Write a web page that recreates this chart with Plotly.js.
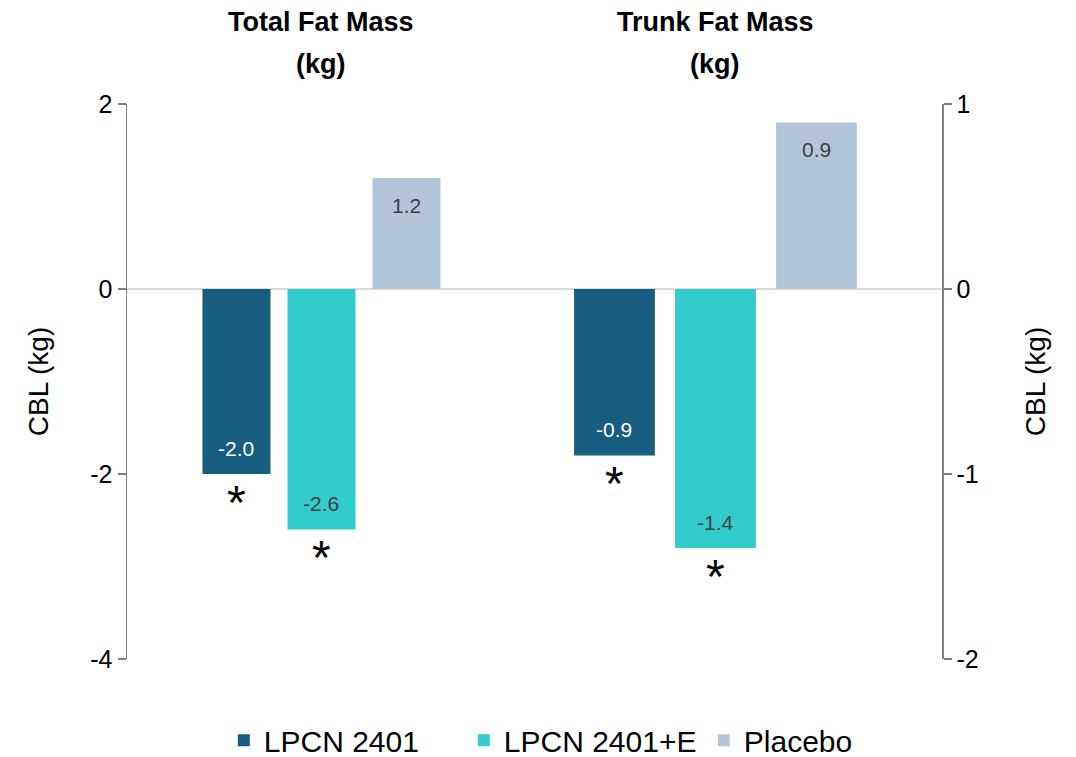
<!DOCTYPE html>
<html><head><meta charset="utf-8">
<script src="https://cdn.plot.ly/plotly-3.0.1.min.js"></script>
<style>html,body{margin:0;padding:0;background:#fff}#chart{width:1076px;height:757px}</style>
</head><body><div id="chart"></div>
<script>
// ---- data ----
const groupTitles = ["Total Fat Mass", "Trunk Fat Mass"];
const groupUnit = "(kg)";
const seriesNames = ["LPCN 2401", "LPCN 2401+E", "Placebo"];
const totalFatMass = [-2.0, -2.6, 1.2];
const trunkFatMass = [-0.9, -1.4, 0.9];
const totalFatSignificant = [true, true, false];
const trunkFatSignificant = [true, true, false];
const leftTicks = [-4, -2, 0, 2];
const rightTicks = [-2, -1, 0, 1];
const yTitle = "CBL (kg)";

// ---- style ----
const barColors = ["#175d7f", "#33cccc", "#b3c6d8"];
const labelColors = ["#ffffff", "#404040", "#404040"];
const FONT = "Liberation Sans, Arial, sans-serif";
const BARGAP = 0.3153, BARGROUPGAP = 0.2;
const AXIS_COLOR = "#7f7f7f";

const groupWidth = 1 - BARGAP;
const slot = groupWidth / seriesNames.length;
function barCenter(i) { return -groupWidth / 2 + slot * (i + 0.5); }

const panels = [
  {vals: totalFatMass, sig: totalFatSignificant, xa: "x", ya: "y", title: groupTitles[0]},
  {vals: trunkFatMass, sig: trunkFatSignificant, xa: "x2", ya: "y2", title: groupTitles[1]}
];

const traces = [];
const annotations = [];
panels.forEach((p, pi) => {
  seriesNames.forEach((name, i) => {
    traces.push({
      type: "bar",
      name: name,
      legendgroup: name,
      showlegend: pi === 0,
      x: [p.title],
      y: [p.vals[i]],
      xaxis: p.xa,
      yaxis: p.ya,
      marker: {color: barColors[i], line: {width: 0}},
      hoverinfo: "skip"
    });
    const v = p.vals[i];
    annotations.push({
      xref: p.xa, yref: p.ya, x: barCenter(i), y: v,
      text: v.toFixed(1), showarrow: false,
      font: {family: FONT, size: 21, color: labelColors[i]},
      xanchor: "center", yanchor: "middle",
      yshift: v < 0 ? 26 : -27
    });
    if (p.sig[i]) {
      annotations.push({
        xref: p.xa, yref: p.ya, x: barCenter(i), y: v,
        text: "*", showarrow: false,
        font: {family: FONT, size: 48, color: "#000000"},
        xanchor: "center", yanchor: "middle",
        yshift: -28
      });
    }
  });
  annotations.push({
    xref: p.xa, yref: "paper", x: 0, y: 1, yshift: 82,
    text: p.title, showarrow: false,
    font: {family: FONT, size: 27, color: "#000000", weight: "bold"},
    xanchor: "center", yanchor: "middle"
  });
  annotations.push({
    xref: p.xa, yref: "paper", x: 0, y: 1, yshift: 40,
    text: groupUnit, showarrow: false,
    font: {family: FONT, size: 27, color: "#000000", weight: "bold"},
    xanchor: "center", yanchor: "middle"
  });
});

const yCommon = {
  showgrid: false, zeroline: true, zerolinecolor: "#d9d9d9", zerolinewidth: 2,
  showline: true, linecolor: AXIS_COLOR, linewidth: 1.5,
  ticks: "outside", ticklen: 8, tickcolor: AXIS_COLOR, tickwidth: 1.5,
  tickfont: {family: FONT, size: 25, color: "#000000"},
  automargin: false,
  fixedrange: true
};

const layout = {
  width: 1076, height: 757,
  margin: {l: 127, r: 134, t: 104, b: 98, autoexpand: false},
  paper_bgcolor: "#ffffff", plot_bgcolor: "#ffffff",
  barmode: "group", bargap: BARGAP, bargroupgap: BARGROUPGAP,
  showlegend: true,
  legend: {
    orientation: "h", xref: "container", yref: "container",
    x: 0.208, xanchor: "left", y: 0.022, yanchor: "middle",
    font: {family: FONT, size: 30, color: "#000000"}, itemwidth: 30,
    entrywidth: 195, entrywidthmode: "pixels", traceorder: "normal"
  },
  xaxis: {domain: [0, 0.45706], range: [-0.5221, 0.4779], type: "category",
          showticklabels: false, showgrid: false, zeroline: false, showline: false, ticks: ""},
  xaxis2: {domain: [0.45706, 1], range: [-0.4881, 0.5119], type: "category",
           showticklabels: false, showgrid: false, zeroline: false, showline: false, ticks: "", anchor: "y2"},
  yaxis: Object.assign({}, yCommon, {range: [-4, 2], tickvals: leftTicks, ticktext: leftTicks.map(String), side: "left", anchor: "x",
    title: {text: yTitle, font: {family: FONT, size: 28, color: "#000000"}, standoff: 33}}),
  yaxis2: Object.assign({}, yCommon, {range: [-2, 1], tickvals: rightTicks, ticktext: rightTicks.map(String), side: "right", anchor: "x2",
    title: {text: yTitle, font: {family: FONT, size: 28, color: "#000000"}, standoff: 47}}),
  annotations: annotations,
  font: {family: FONT}
};

Plotly.newPlot("chart", traces, layout, {displayModeBar: false, staticPlot: true});
</script>
</body></html>
